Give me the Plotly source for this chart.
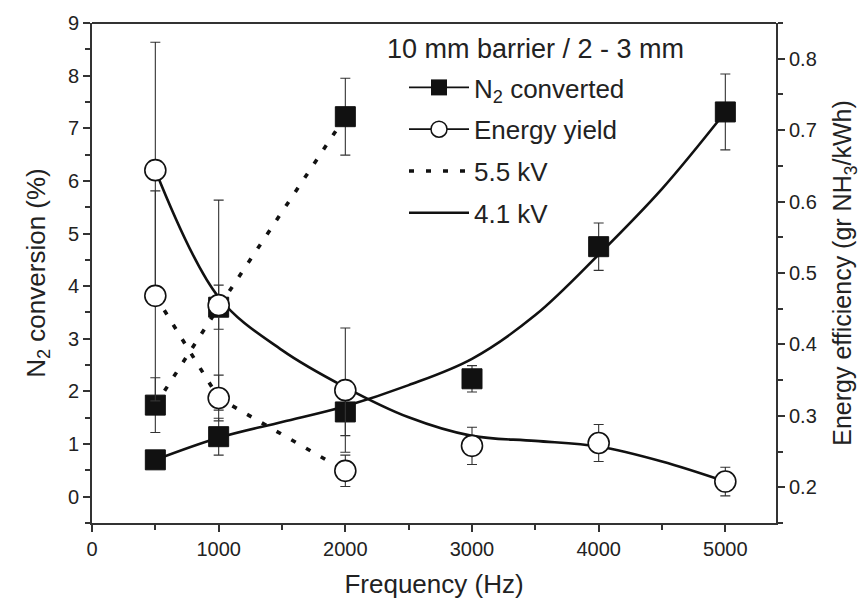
import plotly.graph_objects as go

# ---------------- data ----------------
freq_55 = [500, 1000, 2000]
n2_55 = [1.74, 3.6, 7.22]
n2_55_err = [0.52, 0.42, 0.73]
ey_55 = [0.468, 0.325, 0.223]
ey_55_err = [0.147, 0.032, 0.022]

freq_41 = [500, 1000, 2000, 3000, 4000, 5000]
n2_41 = [0.70, 1.14, 1.61, 2.24, 4.75, 7.31]
n2_41_err = [0.08, 0.35, 0.45, 0.25, 0.45, 0.72]
ey_41 = [0.644, 0.455, 0.336, 0.258, 0.262, 0.208]
ey_41_err = [0.179, 0.147, 0.087, 0.026, 0.026, 0.02]

# smooth guide curves drawn through the 4.1 kV data
fit_freq = [500, 1000, 1500, 2000, 2500, 3000, 3500, 4000, 4500, 5000]
n2_41_fit = [0.70, 1.12, 1.42, 1.72, 2.12, 2.62, 3.45, 4.60, 5.85, 7.31]
ey_41_fit = [0.644, 0.466, 0.392, 0.340, 0.298, 0.272, 0.265, 0.257, 0.236, 0.208]

legend_names = ["N<sub>2</sub> converted", "Energy yield", "5.5 kV", "4.1 kV"]
legend_title = "10 mm barrier / 2 - 3 mm"

FONT = "Arial, Liberation Sans, sans-serif"
INK = "#111111"
DOT = "5px,12px"

fig = go.Figure()

# guide curves (4.1 kV, solid)
fig.add_trace(go.Scatter(x=fit_freq, y=n2_41_fit, mode="lines", line=dict(color=INK, width=2.6, shape="spline"),
                         showlegend=False, hoverinfo="skip"))
fig.add_trace(go.Scatter(x=fit_freq, y=ey_41_fit, mode="lines", yaxis="y2",
                         line=dict(color=INK, width=2.6, shape="spline"), showlegend=False, hoverinfo="skip"))
# 5.5 kV dotted lines
fig.add_trace(go.Scatter(x=freq_55, y=n2_55, mode="lines", line=dict(color=INK, width=3.6, dash=DOT),
                         showlegend=False, hoverinfo="skip"))
fig.add_trace(go.Scatter(x=freq_55, y=ey_55, mode="lines", yaxis="y2", line=dict(color=INK, width=3.6, dash=DOT),
                         showlegend=False, hoverinfo="skip"))

err_style = dict(type="data", color="#333333", thickness=1.1, width=5)
sq = dict(symbol="square", size=20, color=INK, line=dict(color=INK, width=1))
ci = dict(symbol="circle", size=21, color="white", line=dict(color=INK, width=1.6))

# squares (N2 conversion, left axis)
fig.add_trace(go.Scatter(x=freq_41, y=n2_41, mode="markers", marker=sq,
                         error_y=dict(array=n2_41_err, **err_style), showlegend=False))
fig.add_trace(go.Scatter(x=freq_55, y=n2_55, mode="markers", marker=sq,
                         error_y=dict(array=n2_55_err, **err_style), showlegend=False))
# circles (energy yield, right axis)
fig.add_trace(go.Scatter(x=freq_41, y=ey_41, mode="markers", marker=ci, yaxis="y2",
                         error_y=dict(array=ey_41_err, **err_style), showlegend=False))
fig.add_trace(go.Scatter(x=freq_55, y=ey_55, mode="markers", marker=ci, yaxis="y2",
                         error_y=dict(array=ey_55_err, **err_style), showlegend=False))

# legend entries
fig.add_trace(go.Scatter(x=[None], y=[None], mode="lines+markers", name=legend_names[0], legendgroup="a",
                         line=dict(color=INK, width=1.8), marker=dict(symbol="square", size=17, color=INK)))
fig.add_trace(go.Scatter(x=[None], y=[None], mode="lines+markers", name=legend_names[1], legendgroup="b",
                         line=dict(color=INK, width=1.8),
                         marker=dict(symbol="circle", size=17, color="white", line=dict(color=INK, width=1.5))))
fig.add_trace(go.Scatter(x=[None], y=[None], mode="lines", name=legend_names[2], legendgroup="c",
                         line=dict(color=INK, width=3.6, dash=DOT)))
fig.add_trace(go.Scatter(x=[None], y=[None], mode="lines", name=legend_names[3], legendgroup="d",
                         line=dict(color=INK, width=2.6)))

axis_common = dict(showline=True, linecolor="#333333", linewidth=2, ticks="outside", ticklen=7, tickwidth=1.5,
                   tickcolor="#333333", showgrid=False, zeroline=False,
                   tickfont=dict(family=FONT, size=20, color="#222222"))

fig.update_layout(
    width=867, height=611,
    margin=dict(l=92, r=91, t=23, b=88),
    paper_bgcolor="white", plot_bgcolor="white",
    font=dict(family=FONT, color="#222222"),
    xaxis=dict(range=[0, 5400], tick0=0, dtick=1000, mirror=False,
               minor=dict(dtick=500, ticks="outside", ticklen=5, tickwidth=1.5, tickcolor="#333333"),
               title=dict(text="Frequency (Hz)", font=dict(family=FONT, size=26), standoff=16),
               **axis_common),
    yaxis=dict(range=[-0.5, 9], tick0=0, dtick=1,
               minor=dict(dtick=0.5, ticks="outside", ticklen=5, tickwidth=1.5, tickcolor="#333333"),
               title=dict(text="N<sub>2</sub> conversion (%)", font=dict(family=FONT, size=26), standoff=15),
               **axis_common),
    yaxis2=dict(range=[0.15, 0.85], tick0=0.2, dtick=0.1, overlaying="y", side="right", tickformat=".1f",
                minor=dict(dtick=0.05, ticks="outside", ticklen=5, tickwidth=1.5, tickcolor="#333333"),
                title=dict(text="Energy efficiency (gr NH<sub>3</sub>/kWh)", font=dict(family=FONT, size=25),
                           standoff=18),
                **axis_common),
    legend=dict(x=(404 - 92) / 684, y=(523 - 64) / 500, xanchor="left", yanchor="top",
                bgcolor="rgba(0,0,0,0)", font=dict(family=FONT, size=26, color="#222222"),
                traceorder="grouped", tracegroupgap=5, itemwidth=60),
    shapes=[dict(type="line", xref="paper", yref="paper", x0=0, x1=1, y0=1, y1=1,
                 line=dict(color="#333333", width=2))],
    annotations=[dict(text=legend_title, xref="paper", yref="paper", x=(535 - 92) / 684, y=(523 - 49) / 500,
                      xanchor="center", yanchor="middle", showarrow=False,
                      font=dict(family=FONT, size=27, color="#222222"))],
)

fig.write_html("out.html")
